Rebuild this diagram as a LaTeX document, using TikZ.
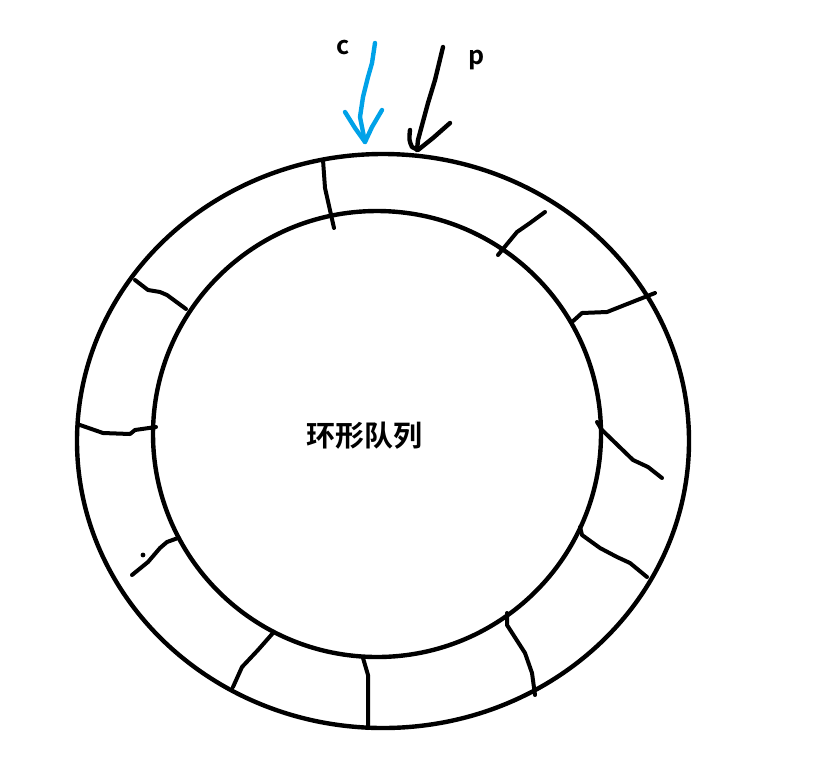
\documentclass[tikz,border=0pt]{standalone}
\usepackage{fontspec}
\newfontfamily\cjk{Noto Sans CJK SC Bold}
\definecolor{paintblue}{RGB}{0,162,232}
\begin{document}
\begin{tikzpicture}[x=1pt,y=-1pt,
  ink/.style={line width=4.4pt,line cap=round,line join=round},
  divider/.style={line width=4pt,line cap=round,line join=round},
  lbl/.style={inner sep=0pt,font=\cjk}]
\useasboundingbox[fill=white] (0,0) rectangle (826,758);
% rings
\draw[ink] (383,441) ellipse [x radius=306,y radius=287];
\draw[ink] (377,434) ellipse [x radius=224,y radius=223];
% dividers
\draw[divider] (323,160) -- (325,188) -- (334,228);
\draw[divider] (498,255) -- (517,232) -- (530,223) -- (545,212);
\draw[divider] (572,322) -- (582,313) -- (607,312) -- (655,293);
\draw[divider] (597,422) -- (602,430) -- (633,460) -- (648,467) -- (662,478);
\draw[divider] (580,527) -- (582,535) -- (600,548) -- (617,557) -- (630,563) -- (647,577);
\draw[divider] (507,613) -- (507,625) -- (525,653) -- (532,673) -- (535,695);
\draw[divider] (363,658) -- (368,675) -- (368,728);
\draw[divider] (273,633) -- (258,650) -- (242,667) -- (233,687);
\draw[divider] (178,538) -- (167,542) -- (160,548) -- (148,562) -- (132,575);
\fill (143,555) circle (2.4pt);
\draw[divider] (80,425) -- (103,433) -- (130,434) -- (135,430) -- (156,427);
\draw[divider] (135,280) -- (148,290) -- (160,292) -- (167,295) -- (186,309);
% c arrow (blue)
\draw[ink,paintblue] (375,43) -- (372,63) -- (368,77) -- (363,97) -- (360,117) -- (365,142);
\draw[ink,paintblue] (345,112) -- (355,128) -- (365,142) -- (372,127) -- (382,110);
% p arrow (black)
\draw[ink] (443,47) -- (435,80) -- (428,103) -- (418,140) -- (417,150);
\draw[ink] (410,130) .. controls (409,140) .. (412,147) -- (418,150) -- (433,138) -- (450,123);
% labels
\node[lbl,font=\cjk\fontsize{25}{25}\selectfont] (c) at (343,47) {c};
\node[lbl,font=\cjk\fontsize{25}{25}\selectfont] (p) at (477,60) {p};
\node[lbl,font=\cjk\fontsize{29}{29}\selectfont] (title) at (364,436) {环形队列};
\end{tikzpicture}
\end{document}
